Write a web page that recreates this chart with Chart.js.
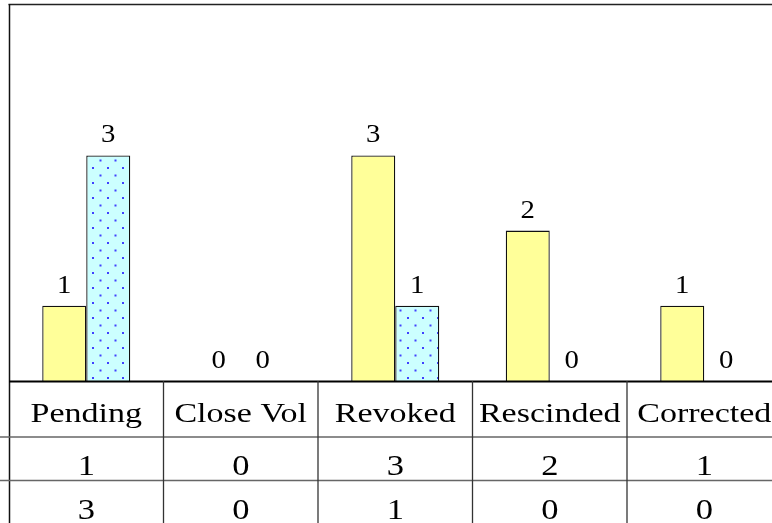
<!DOCTYPE html>
<html>
<head>
<meta charset="utf-8">
<script src="https://cdn.jsdelivr.net/npm/chart.js@4/dist/chart.umd.min.js"></script>
<style>
  html, body { margin: 0; padding: 0; background: #ffffff; overflow: hidden; width: 772px; height: 523px; }
  #wrap { position: absolute; left: 0; top: 0; width: 790px; height: 523px; }
  #probe { position: absolute; left: -1000px; top: 0; font-family: "Liberation Serif"; font-size: 27px; }
</style>
</head>
<body>
<span id="probe">Pending 0123</span>
<div id="wrap"><canvas id="c" width="790" height="523"></canvas></div>
<script>
// ---- data ----
const categories = ['Pending', 'Close Vol', 'Revoked', 'Rescinded', 'Corrected'];
const seriesNames = ['Series 1', 'Series 2'];
const series1 = [1, 0, 3, 2, 1];
const series2 = [3, 0, 1, 0, 0];
const yTicks = [0, 1, 2, 3, 4, 5];

const FONT = '"Liberation Serif", "Times New Roman", Times, serif';

// dotted pattern for second series
function dotPattern() {
  const t = document.createElement('canvas');
  t.width = 15; t.height = 15;
  const g = t.getContext('2d');
  g.fillStyle = '#CCFFFF';
  g.fillRect(0, 0, 15, 15);
  g.fillStyle = '#4040ff';
  g.fillRect(2, 2, 2, 2);
  g.fillRect(9.5, 9.5, 2, 2);
  return document.getElementById('c').getContext('2d').createPattern(t, 'repeat');
}

function sText(ctx, t, x, y, size, sx) {
  ctx.save();
  ctx.font = size + 'px ' + FONT;
  ctx.fillStyle = '#000';
  ctx.textAlign = 'center';
  ctx.textBaseline = 'alphabetic';
  ctx.translate(x, y);
  ctx.scale(sx, 1);
  ctx.fillText(t, 0, 0);
  ctx.restore();
}

function line(ctx, x1, y1, x2, y2, color, w) {
  ctx.save();
  ctx.strokeStyle = color;
  ctx.lineWidth = w;
  ctx.beginPath();
  ctx.moveTo(x1, y1);
  ctx.lineTo(x2, y2);
  ctx.stroke();
  ctx.restore();
}

const tablePlugin = {
  id: 'tablePlugin',
  afterDraw(chart) {
    const ctx = chart.ctx;
    const xs = chart.scales.x;
    const area = chart.chartArea;
    const W = chart.width, H = chart.height;
    const rows = [series1, series2];
    const catW = (area.right - area.left) / categories.length;

    // frame
    line(ctx, area.left - 0.5, area.top - 0.5, W, area.top - 0.5, '#222', 1.5);
    line(ctx, area.left + 0.5, area.top - 1, area.left + 0.5, H, '#111', 1.5);
    // axis line
    line(ctx, area.left, area.bottom + 0.5, W, area.bottom + 0.5, '#000', 1.8);
    // table rows
    line(ctx, 0, 437, W, 437, '#666', 1.5);
    line(ctx, 0, 480.5, W, 480.5, '#666', 1.5);
    // column dividers
    for (let i = 1; i < categories.length + 1; i++) {
      const x = xs.getPixelForValue(i - 1) + catW / 2;
      line(ctx, x, area.bottom, x, H, '#333', 1.3);
    }

    // data labels above bars
    chart.data.datasets.forEach((ds, di) => {
      const meta = chart.getDatasetMeta(di);
      meta.data.forEach((el, i) => {
        sText(ctx, String(ds.data[i]), el.x, el.y - 13, 25, 1.15);
      });
    });

    // category labels (header row of table)
    categories.forEach((c, i) => {
      sText(ctx, c, xs.getPixelForValue(i), 421.5, 27, 1.26);
    });

    // table values
    const baselines = [475, 519];
    rows.forEach((r, ri) => {
      r.forEach((v, i) => {
        sText(ctx, String(v), xs.getPixelForValue(i), baselines[ri], 30, 1.15);
      });
    });
  }
};

function build() {
  new Chart(document.getElementById('c'), {
    type: 'bar',
    data: {
      labels: categories,
      datasets: [
        {
          label: seriesNames[0],
          data: series1,
          backgroundColor: '#FFFF99',
          borderColor: '#111111',
          borderWidth: 1.3,
          categoryPercentage: 0.5696,
          barPercentage: 1.0
        },
        {
          label: seriesNames[1],
          data: series2,
          backgroundColor: dotPattern(),
          borderColor: '#111111',
          borderWidth: 1.3,
          categoryPercentage: 0.5696,
          barPercentage: 1.0
        }
      ]
    },
    options: {
      responsive: false,
      animation: false,
      devicePixelRatio: 1,
      layout: { padding: { left: 9, top: 5, right: 8.5, bottom: 142 } },
      plugins: { legend: { display: false }, tooltip: { enabled: false } },
      scales: {
        x: { display: false },
        y: {
          display: false,
          min: yTicks[0],
          max: yTicks[yTicks.length - 1]
        }
      }
    },
    plugins: [tablePlugin]
  });
}

if (document.fonts && document.fonts.load) {
  Promise.all([
    document.fonts.load('27px "Liberation Serif"'),
    document.fonts.ready
  ]).then(build, build);
} else {
  build();
}
</script>
</body>
</html>
